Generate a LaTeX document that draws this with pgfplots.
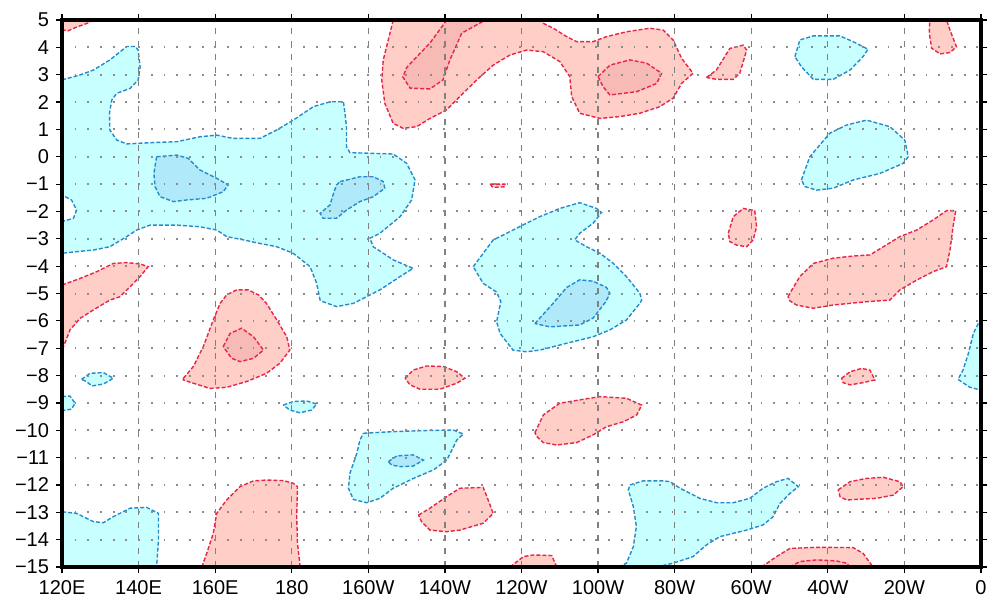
\documentclass[border=0pt]{standalone}
\usepackage{fontspec}
\setmainfont{Liberation Sans}
\usepackage{pgfplots}
\pgfplotsset{compat=1.18}
\usetikzlibrary{calc}

\definecolor{posfill}{RGB}{255,206,198}
\definecolor{posfilltwo}{RGB}{248,186,180}
\definecolor{negfill}{RGB}{200,255,255}
\definecolor{negfilltwo}{RGB}{176,234,250}
\definecolor{posline}{RGB}{232,36,72}
\definecolor{negline}{RGB}{36,140,204}

\tikzset{
  posA/.style={fill=posfill, draw=posline, line width=0.7pt, dash pattern=on 2pt off 1pt},
  posB/.style={fill=posfilltwo, draw=posline, line width=0.7pt, dash pattern=on 2pt off 1pt},
  negA/.style={fill=negfill, draw=negline, line width=0.7pt, dash pattern=on 2pt off 1pt},
  negB/.style={fill=negfilltwo, draw=negline, line width=0.7pt, dash pattern=on 2pt off 1pt},
}

\begin{document}
\begin{tikzpicture}
\begin{axis}[
  name=map,
  scale only axis,
  width=459.5pt, height=273.5pt,
  xmin=120, xmax=360, ymin=-15, ymax=5,
  xtick={120,140,...,360},
  xticklabels={120E,140E,160E,180,160W,140W,120W,100W,80W,60W,40W,20W,0},
  ytick={-15,-14,...,5},
  yticklabels={−15,−14,−13,−12,−11,−10,−9,−8,−7,−6,−5,−4,−3,−2,−1,0,1,2,3,4,5},
  tick align=outside,
  major tick length=3pt,
  tick style={black, line width=0.6pt},
  axis line style={black, line width=1.6pt},
  grid=major,
  major x grid style={black!50, line width=0.6pt, dash pattern=on 3pt off 3.5pt},
  major y grid style={black!45, line width=1pt, dash pattern=on 0.9pt off 5.45pt},
  axis on top,
  ticklabel style={font=\fontsize{10}{12}\selectfont},
]

% ---- positive (red) regions
\addplot[posA] coordinates {(120,5) (128,5) (127,4.9) (124,4.75) (121.5,4.6) (120,4.65)} -- cycle;

\addplot[posA] coordinates {(206.5,5) (205.2,4.27) (203.9,3.54) (203.5,2.81) (204.3,1.95) (206.5,1.22)
  (209.1,1.04) (212.6,1.1) (216.1,1.4) (220.4,1.71) (223.9,2.2) (228.3,2.81) (232.6,3.35) (237,3.72)
  (241.3,3.9) (245.7,3.84) (250,3.48) (252.6,2.93) (253.1,2.2) (255.2,1.59) (260.5,1.4) (265.7,1.47)
  (270.9,1.59) (276.1,1.83) (279.6,2.14) (281.8,2.68) (284.8,3.05) (281.8,3.6) (279.6,4.27) (277,4.63)
  (273.5,4.7) (267.4,4.57) (262.2,4.39) (258.7,4.21) (254.4,4.21) (251.8,4.39) (248.3,4.7) (245.7,4.88)
  (244.8,5)} -- cycle;

\addplot[posA] coordinates {(288.3,2.9) (290.9,3.17) (294.4,3.96) (297.9,4.08) (298.8,3.9) (297,3.05)
  (295.3,2.83) (290.9,2.83)} -- cycle;

\addplot[posA] coordinates {(346.6,5) (351,5) (351.9,4.63) (353.6,4.02) (351.9,3.81) (349.3,3.76)
  (347.1,3.97) (346.5,4.51)} -- cycle;

\addplot[posA] coordinates {(231.8,-1) (235.7,-1) (235.7,-1.1) (232.5,-1.12)} -- cycle;

\addplot[posA] coordinates {(294,-2.8) (295.3,-2.19) (297.9,-1.89) (300.9,-1.97) (301.4,-2.56)
  (300.5,-3.04) (298.8,-3.29) (296.2,-3.23) (294.4,-3.1)} -- cycle;

\addplot[posA] coordinates {(309.6,-5.12) (310.1,-4.99) (312.7,-4.38) (316.2,-3.9) (321.4,-3.71)
  (326.6,-3.63) (331,-3.59) (334.5,-3.29) (338.8,-2.92) (343.2,-2.68) (347.5,-2.31) (351,-1.97)
  (353.4,-1.97) (352.7,-2.56) (351.9,-3.41) (351,-4.02) (347.5,-4.2) (343.2,-4.51) (338.8,-4.87)
  (336.2,-5.24) (330.1,-5.3) (321.4,-5.42) (316.2,-5.54) (311.8,-5.42) (310.1,-5.27)} -- cycle;

\addplot[posA] coordinates {(120,-4.69) (124.7,-4.45) (129.1,-4.2) (133.4,-3.9) (136.9,-3.87)
  (140.4,-3.92) (142.5,-4.02) (140.4,-4.38) (137.8,-4.75) (135.1,-5.12) (132.5,-5.24) (128.2,-5.6)
  (124.7,-5.91) (122.1,-6.33) (120.4,-6.94) (120,-7.07)} -- cycle;

\addplot[posA] coordinates {(151.7,-8.1) (154.3,-7.67) (156.9,-6.94) (159.5,-5.97) (161.3,-5.36)
  (163,-5.05) (165.6,-4.87) (168.7,-4.87) (171.3,-5.05) (173.4,-5.36) (176.1,-5.97) (178.7,-6.58)
  (179.5,-7.07) (176.9,-7.55) (173.4,-7.92) (168.2,-8.22) (163,-8.43) (158.6,-8.47) (154.3,-8.28)
  (151.7,-8.16)} -- cycle;

\addplot[posA] coordinates {(209.6,-8.1) (211.7,-7.8) (215.2,-7.65) (219.6,-7.67) (223.1,-7.86)
  (225.2,-8.1) (223.1,-8.28) (218.7,-8.5) (213.5,-8.5) (210.9,-8.34)} -- cycle;

\addplot[posA] coordinates {(243.5,-10.09) (245.7,-9.44) (250,-9.01) (256.1,-8.87) (260.5,-8.77)
  (267.4,-8.83) (271.4,-9.08) (270.1,-9.44) (266.6,-9.69) (262.2,-9.87) (258.7,-10.17) (254.4,-10.45)
  (249.2,-10.54) (245.7,-10.45) (244,-10.23)} -- cycle;

\addplot[posA] coordinates {(323.6,-8.1) (325.8,-7.86) (328.8,-7.74) (331,-7.8) (332.3,-8.16)
  (329.2,-8.26) (325.8,-8.34) (324,-8.26)} -- cycle;

\addplot[posA] coordinates {(322.7,-12.18) (325.8,-11.88) (330.1,-11.76) (334.5,-11.72) (338.8,-11.88)
  (339.7,-12.06) (337.1,-12.37) (332.7,-12.49) (328.4,-12.52) (324.9,-12.55) (323.2,-12.43)} -- cycle;

\addplot[posA] coordinates {(213.1,-13.1) (216.1,-12.85) (220.4,-12.43) (223.9,-12.12) (230,-12.09)
  (231.3,-12.55) (232.6,-13.04) (230,-13.4) (223.9,-13.65) (220.4,-13.71) (216.1,-13.65)
  (213.9,-13.34)} -- cycle;

\addplot[posA] coordinates {(156.5,-15) (157.8,-14.5) (159.5,-13.77) (160.4,-13.04) (163,-12.55)
  (166.5,-12.06) (170,-11.85) (173.4,-11.82) (177.8,-11.84) (180.4,-11.94) (181.5,-12.06)
  (181.3,-13.16) (181.5,-14.13) (182.2,-15)} -- cycle;

\addplot[posA] coordinates {(237,-15) (240.5,-14.62) (243.1,-14.56) (247.9,-14.58) (249.2,-15)} -- cycle;

\addplot[posA] coordinates {(302.7,-15) (306.6,-14.62) (310.1,-14.32) (317.1,-14.28) (326.6,-14.29)
  (329.2,-14.5) (331.8,-15)} -- cycle;

% ---- negative (blue) regions
\addplot[negA] coordinates {(120,2.81) (124.7,2.99) (128.2,3.17) (132.5,3.54) (136.9,4.03) (139.1,4.03)
  (139.9,3.9) (140.4,3.29) (139.9,2.81) (137.8,2.5) (134.3,2.32) (133,2.07) (132.4,1.59) (132.5,0.98)
  (134.3,0.61) (136.9,0.47) (143.9,0.52) (150,0.55) (156,0.73) (160.4,0.79) (164.7,0.67) (171.7,0.67)
  (176.1,0.98) (180.4,1.34) (185.6,1.83) (190,2.01) (193.5,2.01) (193.9,1.59) (194.3,1.1) (194.3,0.37)
  (195.2,0.15) (206.5,0.1) (210,-0.24) (212.2,-0.85) (211.3,-1.58) (208.3,-2.19) (203,-2.8)
  (200.4,-2.98) (201.3,-3.29) (206.5,-3.77) (211.7,-4.08) (208.3,-4.38) (203,-4.87) (197.8,-5.24)
  (196.1,-5.36) (191.7,-5.48) (188.2,-5.3) (187.4,-5.24) (186.5,-4.63) (184.8,-4.02) (180.4,-3.53)
  (176.1,-3.29) (171.7,-3.17) (167.4,-3.04) (163,-2.92) (160.4,-2.68) (156,-2.56) (150,-2.5)
  (143,-2.5) (139.5,-2.68) (136.9,-2.92) (132.5,-3.29) (128.2,-3.41) (123.8,-3.47) (120,-3.53)
  (120,-2.37) (123,-2.25) (123.8,-1.95) (122.5,-1.58) (120,-1.4)} -- cycle;

\addplot[negA] coordinates {(227.4,-4.02) (232.6,-3.04) (234.4,-2.92) (239.6,-2.55) (244.8,-2.19)
  (250,-1.89) (255.2,-1.68) (259.6,-1.89) (260.9,-2.04) (258.7,-2.43) (255.2,-2.8) (253.9,-3.04)
  (257,-3.29) (260.5,-3.53) (264,-3.9) (267.4,-4.38) (270.9,-4.99) (271.4,-5.24) (270.9,-5.36)
  (267.4,-5.97) (263.1,-6.33) (258.7,-6.58) (251.8,-6.82) (244.8,-7.07) (241.3,-7.13) (237.8,-7.07)
  (234.4,-6.46) (233.5,-6.03) (234.6,-5.3) (233.5,-4.95) (230,-4.63)} -- cycle;

\addplot[negA] coordinates {(311.4,3.66) (312.7,4.27) (316.2,4.42) (323.1,4.42) (326.6,4.21)
  (330.5,3.93) (329.2,3.66) (325.8,3.17) (321.4,2.83) (316.2,2.83) (313.1,3.29)} -- cycle;

\addplot[negA] coordinates {(313.1,-0.85) (315.3,0) (320.5,0.86) (324.9,1.16) (330.1,1.34)
  (336.2,1.1) (340.1,0.61) (341,0) (339.7,-0.24) (333.6,-0.61) (326.6,-0.85) (321.4,-1.15)
  (317.1,-1.22) (314,-1.09)} -- cycle;

\addplot[negA] coordinates {(125.1,-8.14) (127.3,-7.92) (130.8,-7.89) (133.4,-8.1) (130.8,-8.31)
  (127.8,-8.38) (126.4,-8.22)} -- cycle;

\addplot[negA] coordinates {(120,-8.77) (122.1,-8.75) (123.4,-9.01) (122.5,-9.23) (120,-9.28)} -- cycle;

\addplot[negA] coordinates {(177.8,-9.08) (180.4,-8.95) (183.9,-8.93) (186.5,-9.04) (185.2,-9.26)
  (182.1,-9.36) (179.5,-9.26)} -- cycle;

\addplot[negA] coordinates {(198.7,-10.11) (206.5,-10.05) (215.2,-10.01) (222.2,-9.99) (224.8,-10.14)
  (223.1,-10.36) (220.5,-11.09) (217,-11.45) (211.8,-11.76) (206.5,-12.12) (203,-12.49)
  (199.6,-12.65) (196.1,-12.53) (194.8,-12.12) (195.2,-11.57) (197,-10.84) (197.8,-10.36)} -- cycle;

\addplot[negA] coordinates {(120,-12.98) (123.8,-13.04) (128.2,-13.34) (130.8,-13.38) (133.4,-13.16)
  (137.8,-12.85) (142.1,-12.82) (145.2,-13.04) (145.2,-14.01) (144.7,-15) (120,-15)} -- cycle;

\addplot[negA] coordinates {(265.3,-15) (267.4,-14.86) (269.2,-14.26) (270,-13.52) (269.2,-12.79)
  (267.9,-12.18) (268.3,-12) (271.8,-11.85) (277,-11.85) (278.8,-11.88) (281.4,-12.12) (286.6,-12.49)
  (291,-12.65) (295.3,-12.65) (299.6,-12.49) (303.1,-12.12) (306.6,-11.88) (309.6,-11.76) (311,-11.92)
  (312.3,-12.06) (310.1,-12.31) (307.5,-12.67) (305.7,-13.16) (303.1,-13.46) (298.8,-13.65)
  (295.3,-13.77) (291.8,-13.89) (288.3,-14.19) (284.8,-14.62) (279.6,-14.86) (275.3,-15)} -- cycle;

\addplot[negA] coordinates {(360,-5.9) (358,-6.46) (356.7,-7.19) (355.3,-7.8) (354,-8.14) (357.1,-8.43)
  (360,-8.53)} -- cycle;

% ---- inner (stronger) regions
\addplot[posB] coordinates {(220.5,5) (216.1,4.16) (210.1,3.28) (209,2.92) (210.9,2.51) (216.1,2.48)
  (219.5,2.81) (221.3,3.54) (224.4,4.52) (229.7,4.93) (229.9,5)} -- cycle;

\addplot[posB] coordinates {(260,2.93) (263.1,3.35) (268.3,3.54) (272.7,3.42) (276.6,3.05)
  (275.3,2.68) (270.1,2.38) (263.1,2.26) (261.3,2.56)} -- cycle;

\addplot[posB] coordinates {(162.1,-6.94) (163.9,-6.46) (166.9,-6.27) (170,-6.58) (172.6,-7.07)
  (170,-7.37) (166.5,-7.49) (164.3,-7.37)} -- cycle;

\addplot[posB] coordinates {(310.1,-15) (312.7,-14.8) (317.1,-14.74) (322.3,-14.78) (324.9,-14.86)
  (325.8,-15)} -- cycle;

\addplot[negB] coordinates {(144.7,0) (150,0.06) (153,-0.06) (156,-0.48) (160.4,-0.79) (163.4,-1.03)
  (162.1,-1.28) (157.8,-1.52) (152.6,-1.58) (149.1,-1.64) (145.6,-1.46) (144.3,-1.09)
  (144,-0.61)} -- cycle;

\addplot[negB] coordinates {(192.6,-0.91) (197.8,-0.73) (201.3,-0.73) (203.9,-0.91) (204.3,-1.15)
  (201.3,-1.46) (197.8,-1.64) (194.3,-1.95) (191.7,-2.25) (188.2,-2.25) (187.4,-2.07) (190,-1.76)
  (190.9,-1.34) (191.7,-1.03)} -- cycle;

\addplot[negB] coordinates {(243.5,-6.1) (248,-5.4) (251.8,-4.78) (255.2,-4.5) (258.7,-4.55)
  (262.2,-4.78) (263.1,-5) (262,-5.3) (258.7,-5.9) (255.2,-6.15) (247.4,-6.22)} -- cycle;

\addplot[negB] coordinates {(205.2,-11.15) (207.4,-10.94) (211.7,-10.9) (214.4,-11.09) (211.7,-11.31)
  (208.3,-11.33) (206.1,-11.27)} -- cycle;

\end{axis}
\pgfresetboundingbox
\path[use as bounding box] ($(map.south west)+(-31pt,-17pt)$) rectangle ($(map.north east)+(4pt,10pt)$);
\end{tikzpicture}
\end{document}
